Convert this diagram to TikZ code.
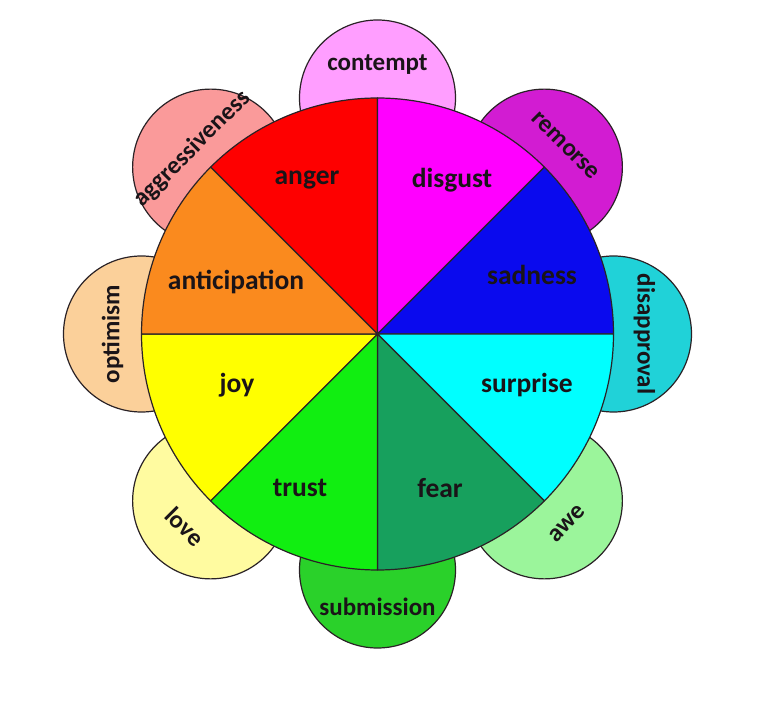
\documentclass[tikz,border=0pt]{standalone}
\usepackage{fontspec}
\setmainfont{Carlito}
\usepackage{tikz}
\definecolor{Rim}{HTML}{2A2226}
\definecolor{Ink}{HTML}{1A1418}
\definecolor{Anger}{HTML}{FE0000}
\definecolor{Disgust}{HTML}{FF00FF}
\definecolor{Sadness}{HTML}{0A0AEE}
\definecolor{Surprise}{HTML}{00FFFF}
\definecolor{Fear}{HTML}{17A05D}
\definecolor{Trust}{HTML}{11EE11}
\definecolor{Joy}{HTML}{FFFF00}
\definecolor{Anticip}{HTML}{FA8A1E}
\definecolor{Contempt}{HTML}{FF9EFF}
\definecolor{Remorse}{HTML}{D21CD2}
\definecolor{Disappr}{HTML}{20D2D8}
\definecolor{Awe}{HTML}{9BF59B}
\definecolor{Submis}{HTML}{2AD12A}
\definecolor{Love}{HTML}{FFFBA0}
\definecolor{Optim}{HTML}{FBD09A}
\definecolor{Aggress}{HTML}{FA9A9A}

\begin{document}
\begin{tikzpicture}[x=1pt,y=1pt,
  petal/.style={draw=Rim,line width=1.2pt},
  slice/.style={draw=Rim,line width=1.2pt,line join=round},
  elbl/.style={font=\bfseries\fontsize{27.5}{27.5}\selectfont,text=Ink,inner sep=0pt},
  plbl/.style={elbl,font=\bfseries\fontsize{25}{25}\selectfont}
]
  \useasboundingbox (0,0) rectangle (772,718);
  \coordinate (c) at (377.5,384);

  % outer petals: mixed emotions, behind the wheel
  \filldraw[petal,fill=Contempt] ([shift={(90:236pt)}]c)   circle[radius=78pt];
  \filldraw[petal,fill=Remorse]  ([shift={(45:236pt)}]c)   circle[radius=78pt];
  \filldraw[petal,fill=Disappr]  ([shift={(0:236pt)}]c)    circle[radius=78pt];
  \filldraw[petal,fill=Awe]      ([shift={(-45:236pt)}]c)  circle[radius=78pt];
  \filldraw[petal,fill=Submis]   ([shift={(-90:236pt)}]c)  circle[radius=78pt];
  \filldraw[petal,fill=Love]     ([shift={(-135:236pt)}]c) circle[radius=78pt];
  \filldraw[petal,fill=Optim]    ([shift={(180:236pt)}]c)  circle[radius=78pt];
  \filldraw[petal,fill=Aggress]  ([shift={(135:236pt)}]c)  circle[radius=78pt];

  % wheel: primary emotions
  \filldraw[slice,fill=Anger]    (c) -- ([shift={(90:236pt)}]c)  arc[start angle=90,end angle=135,radius=236pt] -- cycle;
  \filldraw[slice,fill=Disgust]  (c) -- ([shift={(45:236pt)}]c)  arc[start angle=45,end angle=90,radius=236pt] -- cycle;
  \filldraw[slice,fill=Sadness]  (c) -- ([shift={(0:236pt)}]c)   arc[start angle=0,end angle=45,radius=236pt] -- cycle;
  \filldraw[slice,fill=Surprise] (c) -- ([shift={(-45:236pt)}]c) arc[start angle=-45,end angle=0,radius=236pt] -- cycle;
  \filldraw[slice,fill=Fear]     (c) -- ([shift={(-90:236pt)}]c) arc[start angle=-90,end angle=-45,radius=236pt] -- cycle;
  \filldraw[slice,fill=Trust]    (c) -- ([shift={(-135:236pt)}]c) arc[start angle=-135,end angle=-90,radius=236pt] -- cycle;
  \filldraw[slice,fill=Joy]      (c) -- ([shift={(180:236pt)}]c) arc[start angle=180,end angle=225,radius=236pt] -- cycle;
  \filldraw[slice,fill=Anticip]  (c) -- ([shift={(135:236pt)}]c) arc[start angle=135,end angle=180,radius=236pt] -- cycle;

  % primary labels
  \node[elbl] (anger)    at (307,538)   {anger};
  \node[elbl] (disgust)  at (452,538)   {disgust};
  \node[elbl] (sadness)  at (532,443)   {sadness};
  \node[elbl] (surprise) at (527,333)   {surprise};
  \node[elbl] (fear)     at (440,230)   {fear};
  \node[elbl] (trust)    at (300,230)   {trust};
  \node[elbl] (joy)      at (237,333)   {joy};
  \node[elbl] (anticip)  at (236,436)   {anticipation};

  % petal labels
  \node[plbl]            (contempt) at ([shift={(90:269pt)}]c)   {contempt};
  \node[plbl,rotate=-45] (remorse)  at ([shift={(45:266pt)}]c)   {remorse};
  \node[plbl,rotate=-90] (disappr)  at ([shift={(0:267pt)}]c)    {disapproval};
  \node[plbl,rotate=45]  (awe)      at ([shift={(-45:268pt)}]c)  {awe};
  \node[plbl]            (submis)   at ([shift={(-90:273pt)}]c)  {submission};
  \node[plbl,rotate=-45] (love)     at ([shift={(-135:272pt)}]c) {love};
  \node[plbl,rotate=90]  (optim)    at ([shift={(180:265pt)}]c)  {optimism};
  \node[plbl,rotate=45]  (aggress)  at ([shift={(135:262pt)}]c)  {aggressiveness};
\end{tikzpicture}
\end{document}
